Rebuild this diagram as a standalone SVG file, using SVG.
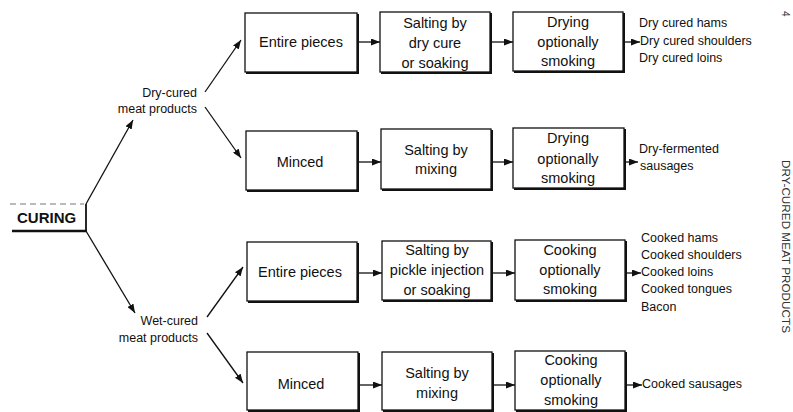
<svg xmlns="http://www.w3.org/2000/svg" width="793" height="412" viewBox="0 0 793 412">
<style>
.bx{fill:#fff;stroke:#111;stroke-width:1.3}
.sh{fill:none;stroke:#111;stroke-width:2}
.t{font-family:"Liberation Sans",Arial,sans-serif;font-size:14.5px;fill:#111;text-anchor:middle}
.o{font-family:"Liberation Sans",Arial,sans-serif;font-size:12.5px;fill:#111}
.l{font-family:"Liberation Sans",Arial,sans-serif;font-size:12.5px;fill:#111;text-anchor:end}
.c{fill:none;stroke:#111;stroke-width:1.3}
</style>
<defs>
<marker id="ah" markerWidth="9" markerHeight="7" refX="9" refY="3.5" orient="auto" markerUnits="userSpaceOnUse">
<path d="M0,0 L9,3.5 L0,7 z" fill="#111"/>
</marker>
</defs>
<rect width="793" height="412" fill="#fff"/>

<g id="curing">
<line x1="10" y1="204" x2="84" y2="204" stroke="#777" stroke-width="1" stroke-dasharray="6,4"/>
<text x="17" y="223" font-family="'Liberation Sans',Arial,sans-serif" font-size="15px" font-weight="bold" fill="#111">CURING</text>
<line x1="12" y1="231" x2="87" y2="231" stroke="#111" stroke-width="2.6"/>
<line x1="86" y1="204" x2="86" y2="232" stroke="#111" stroke-width="1.8"/>
</g>

<g id="dry-cured">
<text class="l" x="197" y="97">Dry-cured</text>
<text class="l" x="197" y="113">meat products</text>
</g>
<g id="wet-cured">
<text class="l" x="198" y="325">Wet-cured</text>
<text class="l" x="198" y="342">meat products</text>
</g>

<g id="r1c1"><rect class="bx" x="245" y="13" width="112" height="59"/><path class="sh" d="M246,73 H358 V14"/><text class="t" x="301" y="47">Entire pieces</text></g>
<g id="r1c2"><rect class="bx" x="380" y="12" width="110" height="60"/><path class="sh" d="M381,73 H491 V13"/><text class="t" x="435" y="28">Salting by</text><text class="t" x="435" y="48">dry cure</text><text class="t" x="435" y="68">or soaking</text></g>
<g id="r1c3"><rect class="bx" x="513" y="12" width="110" height="59"/><path class="sh" d="M514,72 H624 V13"/><text class="t" x="568" y="27">Drying</text><text class="t" x="568" y="47">optionally</text><text class="t" x="568" y="66">smoking</text></g>
<g id="r1out"><text class="o" x="639" y="27">Dry cured hams</text><text class="o" x="640" y="45">Dry cured shoulders</text><text class="o" x="639" y="62">Dry cured loins</text></g>

<g id="r2c1"><rect class="bx" x="246" y="131" width="111" height="59"/><path class="sh" d="M247,191 H358 V132"/><text class="t" x="300" y="167">Minced</text></g>
<g id="r2c2"><rect class="bx" x="381" y="129" width="110" height="60"/><path class="sh" d="M382,190 H492 V130"/><text class="t" x="436" y="155">Salting by</text><text class="t" x="436" y="174">mixing</text></g>
<g id="r2c3"><rect class="bx" x="513" y="128" width="111" height="60"/><path class="sh" d="M514,189 H625 V129"/><text class="t" x="568" y="143">Drying</text><text class="t" x="568" y="164">optionally</text><text class="t" x="568" y="183">smoking</text></g>
<g id="r2out"><text class="o" x="639" y="153">Dry-fermented</text><text class="o" x="640" y="170">sausages</text></g>

<g id="r3c1"><rect class="bx" x="247" y="242" width="110" height="59"/><path class="sh" d="M248,302 H358 V243"/><text class="t" x="300" y="277">Entire pieces</text></g>
<g id="r3c2"><rect class="bx" x="382" y="241" width="109" height="59"/><path class="sh" d="M383,301 H492 V242"/><text class="t" x="437" y="255">Salting by</text><text class="t" x="437" y="275">pickle injection</text><text class="t" x="437" y="295">or soaking</text></g>
<g id="r3c3"><rect class="bx" x="515" y="240" width="110" height="60"/><path class="sh" d="M516,301 H626 V241"/><text class="t" x="570" y="255">Cooking</text><text class="t" x="570" y="275">optionally</text><text class="t" x="570" y="294">smoking</text></g>
<g id="r3out"><text class="o" x="641" y="242">Cooked hams</text><text class="o" x="641" y="259">Cooked shoulders</text><text class="o" x="641" y="276">Cooked loins</text><text class="o" x="641" y="293">Cooked tongues</text><text class="o" x="641" y="311">Bacon</text></g>

<g id="r4c1"><rect class="bx" x="247" y="352" width="111" height="58"/><path class="sh" d="M248,411 H359 V353"/><text class="t" x="301" y="389">Minced</text></g>
<g id="r4c2"><rect class="bx" x="382" y="352" width="110" height="58"/><path class="sh" d="M383,411 H493 V353"/><text class="t" x="437" y="378">Salting by</text><text class="t" x="437" y="398">mixing</text></g>
<g id="r4c3"><rect class="bx" x="515" y="351" width="110" height="59"/><path class="sh" d="M516,411 H626 V352"/><text class="t" x="571" y="365">Cooking</text><text class="t" x="571" y="385">optionally</text><text class="t" x="571" y="405">smoking</text></g>
<g id="r4out"><text class="o" x="642" y="388">Cooked sausages</text></g>

<g id="connectors">
<line class="c" x1="86" y1="204" x2="133" y2="120" marker-end="url(#ah)"/>
<line class="c" x1="86" y1="231" x2="135" y2="313" marker-end="url(#ah)"/>
<line class="c" x1="205" y1="92" x2="241" y2="40" marker-end="url(#ah)"/>
<line class="c" x1="205" y1="107" x2="241" y2="158" marker-end="url(#ah)"/>
<line class="c" x1="207" y1="317" x2="243" y2="267" marker-end="url(#ah)"/>
<line class="c" x1="207" y1="333" x2="243" y2="383" marker-end="url(#ah)"/>
<line class="c" x1="358" y1="42" x2="380" y2="42" marker-end="url(#ah)"/>
<line class="c" x1="491" y1="42" x2="513" y2="42" marker-end="url(#ah)"/>
<line class="c" x1="624" y1="42" x2="640" y2="42" marker-end="url(#ah)"/>
<line class="c" x1="358" y1="162" x2="381" y2="162" marker-end="url(#ah)"/>
<line class="c" x1="492" y1="162" x2="513" y2="162" marker-end="url(#ah)"/>
<line class="c" x1="625" y1="162" x2="638" y2="162" marker-end="url(#ah)"/>
<line class="c" x1="358" y1="273" x2="382" y2="273" marker-end="url(#ah)"/>
<line class="c" x1="492" y1="273" x2="515" y2="273" marker-end="url(#ah)"/>
<line class="c" x1="626" y1="273" x2="641" y2="273" marker-end="url(#ah)"/>
<line class="c" x1="359" y1="385" x2="382" y2="385" marker-end="url(#ah)"/>
<line class="c" x1="493" y1="385" x2="515" y2="385" marker-end="url(#ah)"/>
<line class="c" x1="626" y1="385" x2="642" y2="385" marker-end="url(#ah)"/>
</g>

<g id="margin">
<text x="782" y="11" transform="rotate(90 782 11)" font-family="'Liberation Sans',Arial,sans-serif" font-size="10px" fill="#333">4</text>
<text x="782" y="160" transform="rotate(90 782 160)" font-family="'Liberation Sans',Arial,sans-serif" font-size="10.5px" fill="#333" textLength="173" lengthAdjust="spacingAndGlyphs">DRY-CURED MEAT PRODUCTS</text>
</g>
</svg>
